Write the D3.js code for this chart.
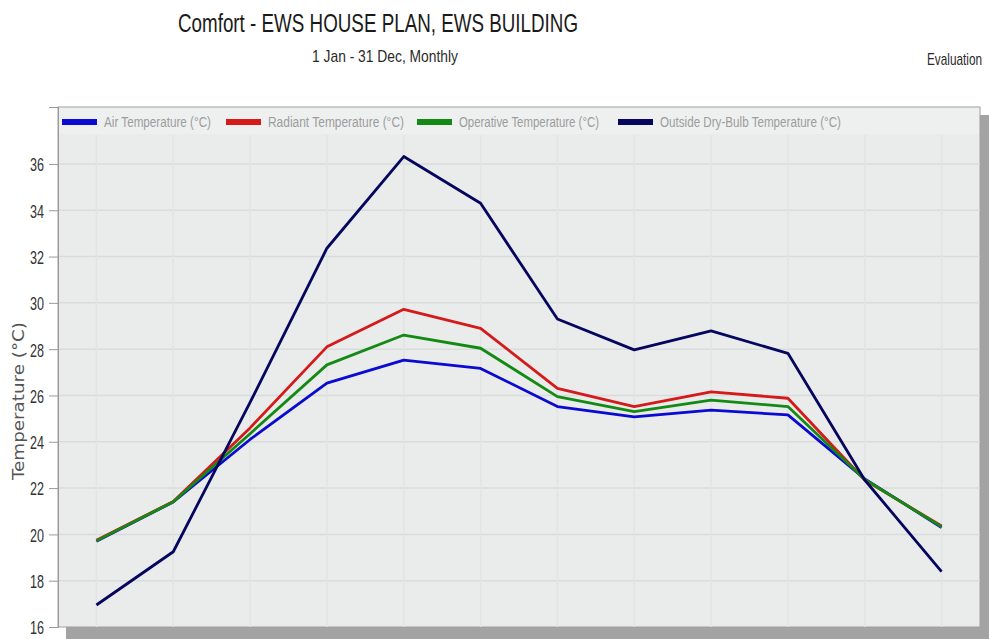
<!DOCTYPE html>
<html><head><meta charset="utf-8">
<script src="https://cdn.jsdelivr.net/npm/d3@7"></script>
<style>body{margin:0;background:#fff}svg{display:block}</style>
</head><body>
<svg id="c" width="989" height="639"></svg>
<script>
const months = ["Jan","Feb","Mar","Apr","May","Jun","Jul","Aug","Sep","Oct","Nov","Dec"];
const airTemp      = [19.70,21.40,24.10,26.53,27.53,27.17,25.52,25.08,25.37,25.16,22.40,20.30];
const radiantTemp  = [19.75,21.42,24.60,28.10,29.72,28.90,26.31,25.52,26.16,25.88,22.35,20.36];
const operativeTemp= [19.72,21.41,24.35,27.32,28.61,28.04,25.95,25.30,25.80,25.52,22.37,20.33];
const outsideTemp  = [16.95,19.25,25.70,32.36,36.32,34.30,29.30,27.97,28.79,27.82,22.35,18.39];
const seriesNames  = ["Air Temperature (°C)","Radiant Temperature (°C)","Operative Temperature (°C)","Outside Dry-Bulb Temperature (°C)"];
const seriesColors = ["#0a0ad0","#d41a1a","#138a13","#06065e"];
const yTicks = [16,18,20,22,24,26,28,30,32,34,36];

const svg = d3.select("#c");
const L=58, R=980, T=107, B=627;
const narrow = "'Liberation Sans', Arial, sans-serif";

function condText(x,y,txt,size,width,anchor,fill){
  const t = svg.append("text").attr("x",x).attr("y",y).attr("font-family",narrow)
    .attr("font-size",size).attr("fill",fill||"#222").text(txt)
    .attr("textLength",width).attr("lengthAdjust","spacingAndGlyphs");
  if(anchor) t.attr("text-anchor",anchor);
  return t;
}
condText(178,32,"Comfort - EWS HOUSE PLAN, EWS BUILDING",26,400,null,"#1a1a1a");
condText(312,62,"1 Jan - 31 Dec, Monthly",17,146,null,"#2a2a2a");
condText(982,65,"Evaluation",17,55,"end","#2a2a2a");

// shadow + plot background
svg.append("rect").attr("x",L+8).attr("y",T+8).attr("width",R-L+1).attr("height",B-T+4).attr("fill","#a3a3a3");
svg.append("rect").attr("x",L).attr("y",T).attr("width",R-L).attr("height",B-T).attr("fill","#eaecec").attr("stroke","#a0a0a0").attr("stroke-width",1);

const x = d3.scalePoint().domain(months).range([L,R]).padding(0.5);
const y = d3.scaleLinear().domain([16,38.46]).range([B,T]);

// grid
const g = svg.append("g");
g.selectAll("line.h").data(yTicks.slice(1)).join("line")
  .attr("x1",L).attr("x2",R).attr("y1",d=>y(d)).attr("y2",d=>y(d))
  .attr("stroke","#dadcdc").attr("stroke-width",1.5);
g.selectAll("line.v").data(months).join("line")
  .attr("x1",d=>x(d)).attr("x2",d=>x(d)).attr("y1",T+28).attr("y2",B)
  .attr("stroke","#e2e4e4").attr("stroke-width",1.5);

// legend strip
svg.append("rect").attr("x",L+1).attr("y",T+1).attr("width",R-L-2).attr("height",26).attr("fill","#eef0f0");
const legX = [62,226,417,618];
const legTextW = [107,136,140,181];
seriesNames.forEach((n,i)=>{
  svg.append("rect").attr("x",legX[i]).attr("y",119).attr("width",35).attr("height",6).attr("fill",seriesColors[i]);
  condText(legX[i]+42,127,n,14,legTextW[i],null,"#9c9c9c");
});

// y axis
const ax = svg.append("g").attr("transform",`translate(${L},0)`)
  .call(d3.axisLeft(y).tickValues(yTicks).tickSize(9).tickPadding(5).tickFormat(d3.format("d")));
ax.select(".domain").attr("stroke","#999");
ax.selectAll(".tick line").attr("stroke","#999");
ax.selectAll(".tick text").attr("font-family",narrow).attr("font-size",19).attr("fill","#333")
  .attr("dy","0.36em").attr("textLength",14).attr("lengthAdjust","spacingAndGlyphs");

svg.append("text").attr("transform","translate(24,401) rotate(-90)").attr("text-anchor","middle")
  .attr("font-family","'DejaVu Sans', sans-serif").attr("font-size",15).attr("fill","#555")
  .attr("textLength",158).attr("lengthAdjust","spacingAndGlyphs")
  .text("Temperature (°C)");

// lines
const line = d3.line().x((d,i)=>x(months[i])).y(d=>y(d));
[airTemp,radiantTemp,operativeTemp,outsideTemp].forEach((s,i)=>{
  svg.append("path").datum(s).attr("d",line).attr("fill","none")
    .attr("stroke",seriesColors[i]).attr("stroke-width",2.8).attr("stroke-linejoin","round");
});
</script>
</body></html>
